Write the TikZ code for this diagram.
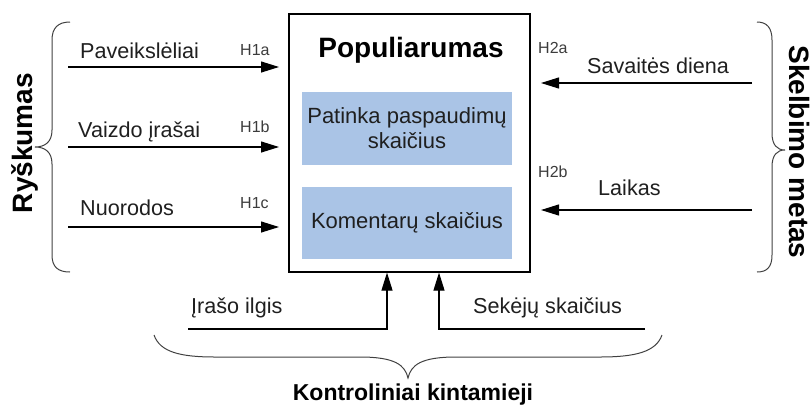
\documentclass[tikz,border=0pt]{standalone}
\usepackage{fontspec}
\setmainfont{Liberation Sans}
\usetikzlibrary{arrows.meta}
\definecolor{bluebox}{RGB}{170,196,230}
\definecolor{hgray}{RGB}{60,60,60}
\begin{document}
\begin{tikzpicture}[x=1pt,y=-1pt,
  arr/.style={line width=1.1pt, -{Triangle[length=18pt,width=11pt]}},
  lbl/.style={font=\fontsize{21.6}{25}\selectfont, anchor=base west, inner sep=0pt, text=black!88},
  hl/.style={font=\fontsize{16}{18}\selectfont, anchor=base west, inner sep=0pt, text=hgray},
  brc/.style={line width=1pt, draw=black!75},
  side/.style={font=\bfseries\fontsize{28}{30}\selectfont, inner sep=0pt},
  inbox/.style={fill=bluebox, minimum width=210pt, inner sep=0pt, align=center, font=\fontsize{22}{25}\selectfont, text=black!88}
]
\useasboundingbox (0,0) rectangle (811,405);
% main box
\node[draw, line width=1.2pt, minimum width=241pt, minimum height=258pt, inner sep=0pt] (box) at (409.5,143) {};
\node[font=\bfseries\fontsize{28}{30}\selectfont, anchor=base, inner sep=0pt] (pop) at (411,57) {Populiarumas};
\node[inbox, minimum height=73pt] (b1) at (407,128.5) {Patinka paspaudimų\\skaičius};
\node[inbox, minimum height=72pt] (b2) at (407,223) {Komentarų skaičius};
% left side
\node[lbl] (t1) at (80,58) {Paveikslėliai};
\node[lbl] (t2) at (78,137) {Vaizdo įrašai};
\node[lbl] (t3) at (80,215) {Nuorodos};
\node[hl] (h1a) at (240,55) {H1a};
\node[hl] (h1b) at (240,132) {H1b};
\node[hl] (h1c) at (240,208) {H1c};
\coordinate (l1s) at (68,67);  \coordinate (l1e) at (279,67);
\coordinate (l2s) at (68,147); \coordinate (l2e) at (279,147);
\coordinate (l3s) at (68,227); \coordinate (l3e) at (279,227);
\draw[arr] (l1s) -- (l1e);
\draw[arr] (l2s) -- (l2e);
\draw[arr] (l3s) -- (l3e);
\draw[brc] (70,22) .. controls (58,22) and (52,28) .. (52,40) -- (52,130) .. controls (52,142) and (45,147) .. (35,147) .. controls (45,147) and (52,152) .. (52,164) -- (52,255) .. controls (52,267) and (58,272) .. (70,272);
\node[side, rotate=90] (rys) at (25,143) {Ryškumas};
% right side
\node[hl] (h2a) at (538,53) {H2a};
\node[hl] (h2b) at (538,177) {H2b};
\node[lbl] (t4) at (587,73) {Savaitės diena};
\node[lbl] (t5) at (598,195) {Laikas};
\coordinate (r1s) at (752,83);  \coordinate (r1e) at (541,83);
\coordinate (r2s) at (752,210); \coordinate (r2e) at (541,210);
\draw[arr] (r1s) -- (r1e);
\draw[arr] (r2s) -- (r2e);
\draw[brc] (757,22) .. controls (767,22) and (772,28) .. (772,40) -- (772,133) .. controls (772,145) and (777,150) .. (785,150) .. controls (777,150) and (772,155) .. (772,167) -- (772,255) .. controls (772,267) and (767,272) .. (757,272);
\node[side, rotate=-90] (skm) at (799,152) {Skelbimo metas};
% bottom
\node[lbl] (t6) at (191,313) {Įrašo ilgis};
\node[lbl] (t7) at (473,313) {Sekėjų skaičius};
\coordinate (b1s) at (188,329); \coordinate (b1c) at (387,329);
\coordinate (b2s) at (645,329); \coordinate (b2c) at (439,329);
\draw[arr] (b1s) -- (b1c) -- (b1c |- box.south);
\draw[arr] (b2s) -- (b2c) -- (b2c |- box.south);
\draw[brc] (154,335) .. controls (160,352) and (180,357) .. (215,357) -- (360,357) .. controls (395,357) and (405,365) .. (408,378) .. controls (411,365) and (421,357) .. (456,357) -- (600,357) .. controls (635,357) and (656,352) .. (662,335);
\node[font=\bfseries\fontsize{23}{26}\selectfont, anchor=base, inner sep=0pt] (kk) at (413,400) {Kontroliniai kintamieji};
\end{tikzpicture}
\end{document}
